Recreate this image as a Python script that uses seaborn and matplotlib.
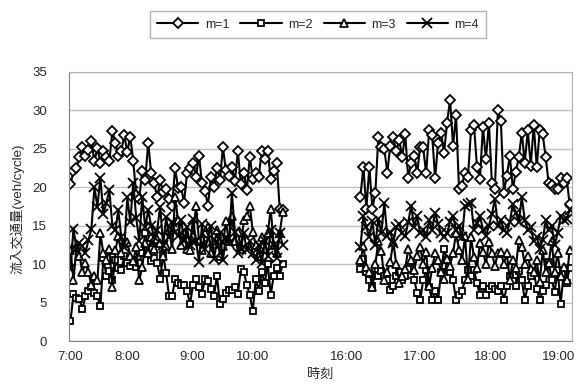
import numpy as np
import pandas as pd
import matplotlib
matplotlib.use('Agg')
import matplotlib.pyplot as plt
from matplotlib.lines import Line2D
import seaborn as sns

# === DATA (veh/cycle, one value per signal cycle) ===

# morning block: cycles 0..71, afternoon block: cycles 97..167
am_slots = list(range(0, 72))
pm_slots = list(range(97, 168))

m1_am = [20.4, 22.1, 22.5, 23.9, 25.2, 24.1, 24.8, 26.0, 23.4, 25.1,
         23.2, 24.7, 24.0, 23.4, 27.3, 25.8, 24.1, 24.7, 26.8, 24.6,
         26.6, 23.4, 19.0, 18.5, 22.1, 20.9, 25.8, 21.8, 20.5, 18.7,
         20.9, 19.4, 19.8, 18.5, 17.6, 22.5, 19.9, 20.0, 18.0, 21.9,
         22.5, 23.2, 21.4, 24.1, 20.5, 19.5, 17.6, 21.4, 20.0, 22.5,
         21.0, 25.2, 22.2, 21.5, 22.7, 20.8, 24.7, 20.4, 21.9, 19.6,
         24.0, 21.1, 21.9, 21.4, 24.7, 23.7, 24.7, 21.1, 22.1, 23.2,
         17.2, 17.1]
m1_pm = [18.7, 22.7, 17.2, 22.7, 17.2, 19.3, 26.5, 25.2, 25.0, 21.9,
         25.4, 26.6, 24.7, 26.1, 24.0, 26.9, 21.2, 23.2, 24.1, 21.8,
         25.3, 25.2, 21.8, 27.4, 26.8, 21.2, 25.8, 27.0, 24.5, 28.4,
         31.4, 25.4, 29.4, 19.8, 20.2, 21.9, 21.4, 27.4, 28.1, 22.7,
         21.1, 27.8, 23.7, 28.4, 20.6, 19.8, 30.0, 28.6, 19.3, 21.5,
         24.1, 19.8, 22.0, 23.9, 27.1, 23.2, 27.4, 22.8, 28.1, 22.7,
         27.4, 26.9, 23.9, 20.5, 20.3, 19.8, 19.8, 21.2, 20.5, 21.2,
         17.8]

m2_am = [2.6, 6.1, 5.6, 5.4, 4.2, 5.8, 6.5, 7.0, 6.3, 5.8,
         4.5, 10.8, 8.5, 9.1, 8.0, 10.6, 9.5, 9.3, 11.0, 10.2,
         9.8, 10.5, 9.6, 10.2, 11.4, 14.0, 12.7, 10.4, 10.8, 10.1,
         8.1, 11.3, 8.8, 5.8, 5.8, 8.1, 7.5, 7.3, 7.3, 6.5,
         4.8, 7.3, 8.1, 7.0, 6.1, 8.1, 7.8, 6.8, 5.8, 8.5,
         4.8, 5.5, 6.2, 6.7, 6.7, 7.0, 6.1, 9.4, 9.0, 7.3,
         6.0, 3.9, 8.1, 6.5, 9.0, 7.5, 10.0, 6.0, 8.5, 9.5,
         8.5, 10.0]
m2_pm = [9.4, 10.7, 9.0, 8.0, 7.1, 9.4, 8.5, 9.1, 8.4, 7.9,
         6.6, 7.2, 8.4, 9.0, 7.9, 8.5, 9.4, 8.6, 8.0, 6.2,
         5.3, 7.9, 9.2, 7.0, 5.3, 6.5, 5.3, 9.0, 12.0, 10.5,
         9.0, 7.9, 5.3, 6.0, 6.5, 8.0, 9.3, 8.5, 9.3, 7.5,
         6.0, 7.1, 6.0, 6.8, 7.1, 6.8, 6.5, 7.2, 5.3, 7.1,
         8.4, 7.8, 7.1, 9.1, 8.0, 5.3, 7.2, 8.5, 9.1, 6.8,
         5.3, 6.5, 7.3, 10.3, 8.0, 6.4, 9.2, 4.8, 8.8, 7.6,
         9.5]

m3_am = [11.9, 7.9, 12.2, 11.1, 9.0, 10.1, 9.0, 7.3, 8.5, 7.9,
         14.0, 11.4, 10.5, 12.0, 7.0, 11.8, 13.6, 11.5, 12.7, 12.9,
         11.0, 10.4, 12.2, 7.9, 9.6, 12.7, 11.5, 13.5, 12.0, 13.3,
         12.7, 11.0, 12.4, 14.5, 12.0, 18.7, 15.7, 12.5, 14.0, 12.0,
         11.9, 13.6, 17.6, 13.0, 11.8, 14.0, 14.8, 11.5, 12.6, 14.4,
         11.0, 12.4, 15.6, 13.0, 16.3, 13.0, 14.2, 12.0, 15.7, 16.2,
         17.6, 14.2, 12.5, 11.0, 13.5, 12.0, 14.0, 17.2, 12.5, 11.5,
         14.0, 16.8]
m3_pm = [10.5, 12.3, 9.6, 9.0, 7.0, 10.0, 13.0, 11.7, 8.0, 9.0,
         10.3, 12.9, 10.0, 7.5, 8.5, 9.4, 12.0, 10.5, 9.2, 11.0,
         12.2, 10.0, 11.6, 7.1, 9.5, 11.4, 10.6, 9.0, 8.1, 10.7,
         9.8, 11.5, 14.0, 11.9, 10.5, 13.6, 8.1, 13.5, 10.9, 9.5,
         12.7, 11.6, 10.0, 12.9, 11.4, 9.8, 11.4, 11.6, 10.0, 11.4,
         7.9, 10.5, 9.5, 13.1, 12.2, 10.0, 11.0, 9.4, 9.0, 10.5,
         7.7, 11.8, 9.0, 10.1, 13.0, 9.0, 11.4, 8.5, 9.6, 7.9,
         11.9]

m4_am = [9.4, 14.6, 12.0, 12.7, 12.4, 11.5, 13.1, 14.6, 20.0, 17.5,
         21.2, 16.5, 18.0, 19.6, 15.0, 14.4, 17.0, 13.5, 12.2, 18.7,
         15.5, 20.6, 16.0, 13.0, 18.7, 14.8, 17.0, 15.0, 13.5, 14.4,
         17.5, 12.5, 16.1, 13.5, 15.5, 14.2, 13.7, 15.8, 13.0, 14.8,
         12.5, 15.9, 13.0, 10.3, 15.2, 12.0, 13.3, 15.0, 10.7, 12.9,
         14.0, 10.5, 13.5, 12.7, 19.3, 14.2, 11.5, 12.0, 14.0, 11.8,
         13.0, 11.4, 10.5, 12.5, 10.1, 13.0, 11.0, 14.5, 12.5, 10.8,
         14.0, 12.5]
m4_pm = [12.2, 16.3, 14.8, 13.5, 15.6, 12.5, 15.9, 14.0, 18.0, 13.7,
         14.2, 12.8, 14.8, 15.2, 14.0, 13.6, 15.5, 17.6, 14.8, 16.3,
         14.0, 14.5, 13.5, 15.7, 14.5, 16.7, 15.2, 14.0, 13.5, 14.0,
         15.5, 16.3, 14.5, 14.9, 13.5, 17.6, 17.8, 18.0, 14.5, 15.3,
         16.3, 14.5, 13.7, 15.0, 16.5, 18.5, 15.0, 15.7, 14.5, 14.0,
         15.5, 17.8, 16.7, 15.5, 18.7, 15.7, 14.5, 14.8, 13.0, 13.5,
         12.0, 13.1, 15.7, 14.5, 15.0, 12.5, 14.0, 16.3, 15.7, 15.9,
         17.0]

series_names = ['m=1', 'm=2', 'm=3', 'm=4']
series_am = [m1_am, m2_am, m3_am, m4_am]
series_pm = [m1_pm, m2_pm, m3_pm, m4_pm]

time_labels = ['7:00', '8:00', '9:00', '10:00', '16:00', '17:00', '18:00', '19:00']
time_label_slots = [0, 19, 40.7, 61, 92.5, 116.8, 140.6, 163.3]

# === BUILD LONG TABLE ===

rows = []
for name, am, pm in zip(series_names, series_am, series_pm):
    for s, v in zip(am_slots, am):
        rows.append((name, 'am', s, v))
    for s, v in zip(pm_slots, pm):
        rows.append((name, 'pm', s, v))
df = pd.DataFrame(rows, columns=['m', 'block', 'slot', 'flow'])

# === PLOT ===

sns.set_style('white')
plt.rcParams['font.family'] = ['Liberation Sans', 'Noto Sans CJK JP', 'DejaVu Sans']
plt.rcParams['font.size'] = 9

fig = plt.figure(figsize=(5.82, 3.85), dpi=100)
ax = fig.add_axes([69 / 582, 1 - 341 / 385, 503 / 582, 269 / 385])

marker_map = {'m=1': 'D', 'm=2': 's', 'm=3': '^', 'm=4': 'x'}
marker_size = {'m=1': 5, 'm=2': 5, 'm=3': 6, 'm=4': 6.5}
for name in series_names:
    sub = df[df['m'] == name]
    sns.lineplot(data=sub, x='slot', y='flow', units='block', estimator=None,
                 color='black', marker=marker_map[name], ax=ax, linewidth=1.5,
                 markersize=marker_size[name], markerfacecolor='white',
                 markeredgecolor='black', markeredgewidth=1.3, legend=False)

ax.set_xlim(-0.5, 167.8)
ax.set_ylim(0, 35)
ax.set_yticks(np.arange(0, 36, 5))
ax.yaxis.grid(True, color='#c0c0c0', linewidth=1)
ax.set_axisbelow(True)

ax.set_xticks(time_label_slots)
ax.set_xticklabels(time_labels)
ax.set_xticks(np.arange(-0.5, 168, 5), minor=True)
ax.tick_params(axis='x', which='major', length=0, pad=7, labelsize=9.5)
ax.tick_params(axis='x', which='minor', direction='in', length=4, width=0.8, color='#808080')
ax.tick_params(axis='y', length=0, pad=16, labelsize=9.5)

for side in ['left', 'bottom']:
    ax.spines[side].set_color('#808080')
for side in ['top', 'right']:
    ax.spines[side].set_color('#b0b0b0')

ax.set_xlabel('時刻', fontsize=9.5)
ax.xaxis.set_label_coords(0.5, -0.105)
ax.set_ylabel('流入交通量(veh/cycle)', fontsize=9.5)
ax.yaxis.set_label_coords(-0.088, 0.49)

handles = [Line2D([], [], color='black', linewidth=1.5, marker=marker_map[n],
                  markersize=marker_size[n], markerfacecolor='white',
                  markeredgecolor='black', markeredgewidth=1.3)
           for n in series_names]
fig.legend(handles, series_names, loc='center', bbox_to_anchor=(318 / 582, 1 - 24.5 / 385),
           ncol=4, frameon=True, fancybox=False, edgecolor='#a0a0a0', fontsize=9,
           handlelength=3.3, handletextpad=0.5, columnspacing=0.9, borderpad=0.6,
           numpoints=1)

plt.savefig('out.png', dpi=100)
